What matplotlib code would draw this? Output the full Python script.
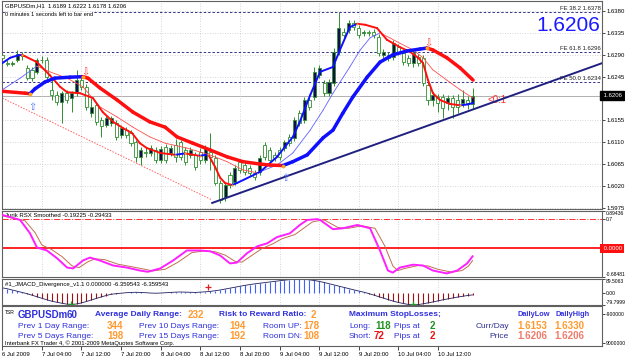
import matplotlib
matplotlib.use('Agg')
import matplotlib.pyplot as plt
from matplotlib.collections import LineCollection

W, H = 625, 358
plt.rcParams['font.family'] = ['Liberation Sans', 'DejaVu Sans']

# ---- hourly candles, GBPUSDm H1 ----
opens = [1.6290, 1.6274, 1.6272, 1.6279, 1.6288, 1.6263, 1.6259, 1.6255, 1.6280, 1.6279,
         1.6218, 1.6207, 1.6193, 1.6211, 1.6201, 1.6211, 1.6238, 1.6224, 1.6170, 1.6187,
         1.6156, 1.6146, 1.6150, 1.6150, 1.6125, 1.6135, 1.6129, 1.6110, 1.6080, 1.6090,
         1.6088, 1.6094, 1.6074, 1.6100, 1.6088, 1.6104, 1.6110, 1.6094, 1.6084, 1.6084,
         1.6090, 1.6074, 1.6090, 1.6078, 1.6026, 1.5997, 1.6043, 1.6028, 1.6070, 1.6063,
         1.6057, 1.6047, 1.6049, 1.6104, 1.6094, 1.6084, 1.6094, 1.6098, 1.6121, 1.6119,
         1.6170, 1.6156, 1.6197, 1.6203, 1.6248, 1.6232, 1.6211, 1.6232, 1.6296, 1.6337,
         1.6341, 1.6356, 1.6345, 1.6335, 1.6337, 1.6337, 1.6327, 1.6290, 1.6290, 1.6286,
         1.6306, 1.6294, 1.6284, 1.6273, 1.6286, 1.6284, 1.6228, 1.6197, 1.6203, 1.6203,
         1.6191, 1.6201, 1.6197, 1.6191, 1.6197, 1.6189]
highs = [1.6296, 1.6279, 1.6277, 1.6300, 1.6296, 1.6270, 1.6265, 1.6284, 1.6288, 1.6286,
         1.6238, 1.6215, 1.6216, 1.6218, 1.6216, 1.6259, 1.6244, 1.6230, 1.6201, 1.6193,
         1.6162, 1.6166, 1.6164, 1.6156, 1.6145, 1.6141, 1.6135, 1.6115, 1.6100, 1.6098,
         1.6104, 1.6100, 1.6102, 1.6106, 1.6104, 1.6117, 1.6115, 1.6100, 1.6100, 1.6090,
         1.6098, 1.6104, 1.6129, 1.6084, 1.6032, 1.6028, 1.6049, 1.6063, 1.6076, 1.6070,
         1.6063, 1.6053, 1.6084, 1.6110, 1.6100, 1.6090, 1.6100, 1.6115, 1.6127, 1.6162,
         1.6176, 1.6203, 1.6203, 1.6265, 1.6269, 1.6238, 1.6240, 1.6304, 1.6378, 1.6345,
         1.6362, 1.6362, 1.6352, 1.6341, 1.6341, 1.6343, 1.6333, 1.6302, 1.6296, 1.6321,
         1.6312, 1.6300, 1.6290, 1.6300, 1.6292, 1.6290, 1.6234, 1.6213, 1.6209, 1.6209,
         1.6207, 1.6207, 1.6209, 1.6218, 1.6205, 1.6222]
lows = [1.6280, 1.6267, 1.6268, 1.6275, 1.6279, 1.6238, 1.6236, 1.6250, 1.6273, 1.6238,
        1.6197, 1.6187, 1.6150, 1.6190, 1.6172, 1.6205, 1.6218, 1.6176, 1.6162, 1.6146,
        1.6121, 1.6141, 1.6143, 1.6115, 1.6119, 1.6119, 1.6102, 1.6070, 1.6063, 1.6080,
        1.6082, 1.6067, 1.6068, 1.6068, 1.6082, 1.6070, 1.6074, 1.6063, 1.6078, 1.6053,
        1.6065, 1.6067, 1.6053, 1.6022, 1.5985, 1.5990, 1.6016, 1.6022, 1.6047, 1.6043,
        1.6041, 1.6032, 1.6043, 1.6074, 1.6067, 1.6072, 1.6074, 1.6092, 1.6102, 1.6113,
        1.6143, 1.6150, 1.6176, 1.6197, 1.6242, 1.6205, 1.6205, 1.6226, 1.6290, 1.6325,
        1.6335, 1.6341, 1.6325, 1.6329, 1.6329, 1.6325, 1.6288, 1.6284, 1.6278, 1.6280,
        1.6290, 1.6269, 1.6267, 1.6265, 1.6267, 1.6226, 1.6187, 1.6185, 1.6172, 1.6160,
        1.6176, 1.6160, 1.6170, 1.6183, 1.6178, 1.6178]
closes = [1.6284, 1.6272, 1.6273, 1.6292, 1.6290, 1.6242, 1.6242, 1.6279, 1.6279, 1.6244,
          1.6207, 1.6193, 1.6211, 1.6197, 1.6211, 1.6238, 1.6224, 1.6183, 1.6183, 1.6152,
          1.6143, 1.6160, 1.6160, 1.6121, 1.6139, 1.6125, 1.6108, 1.6080, 1.6094, 1.6088,
          1.6098, 1.6074, 1.6096, 1.6074, 1.6098, 1.6080, 1.6080, 1.6070, 1.6094, 1.6059,
          1.6074, 1.6098, 1.6080, 1.6026, 1.5991, 1.6022, 1.6022, 1.6057, 1.6053, 1.6049,
          1.6047, 1.6039, 1.6078, 1.6080, 1.6074, 1.6078, 1.6080, 1.6110, 1.6108, 1.6156,
          1.6150, 1.6197, 1.6183, 1.6255, 1.6263, 1.6211, 1.6234, 1.6296, 1.6345, 1.6331,
          1.6356, 1.6348, 1.6331, 1.6337, 1.6335, 1.6331, 1.6294, 1.6296, 1.6284, 1.6314,
          1.6296, 1.6275, 1.6273, 1.6294, 1.6273, 1.6232, 1.6197, 1.6207, 1.6191, 1.6181,
          1.6201, 1.6183, 1.6183, 1.6199, 1.6191, 1.6206]

# moving averages (bar, price)
slow_bar = [0, 4.6, 5.6, 6.6, 8.6, 10.6, 13.7, 16.3, 17.3, 19.7, 23.2, 26.4, 29.8, 32.9, 35.3,
            38.5, 42.0, 45.4, 48.6, 52.1, 54.1, 56.7, 58.7, 61.6, 64.8, 66.8, 68.8, 70.8, 73.7,
            76.3, 78.9, 81.8, 84.4, 85.8, 87.0, 89.8, 92.5, 95.1]
slow_val = [1.6215, 1.6211, 1.6210, 1.6220, 1.6234, 1.6242, 1.6244, 1.6245, 1.6242, 1.6222,
            1.6197, 1.6172, 1.6152, 1.6141, 1.6121, 1.6108, 1.6094, 1.6080, 1.6070, 1.6065,
            1.6063, 1.6062, 1.6070, 1.6084, 1.6119, 1.6135, 1.6170, 1.6203, 1.6244, 1.6275,
            1.6290, 1.6298, 1.6302, 1.6304, 1.6300, 1.6284, 1.6263, 1.6238]
fast_bar = [0, 1.6, 3.2, 4.0, 7.0, 9.6, 11.7, 13.1, 15.7, 18.3, 20.3, 22.4, 24.4, 26.2, 27.8,
            29.2, 31.9, 34.9, 36.9, 39.9, 41.6, 43.0, 44.0, 45.0, 46.4, 47.4, 52.1, 55.5, 58.7,
            60.1, 62.2, 64.2, 66.8, 68.2, 70.2, 71.7, 73.3, 75.7, 77.7, 80.3, 82.4, 84.0, 85.0,
            86.0, 87.0, 88.4, 90.4, 92.5, 94.1, 95.1]
fast_val = [1.6273, 1.6284, 1.6289, 1.6290, 1.6275, 1.6248, 1.6224, 1.6213, 1.6211, 1.6201,
            1.6172, 1.6152, 1.6139, 1.6129, 1.6108, 1.6098, 1.6088, 1.6084, 1.6087, 1.6082,
            1.6085, 1.6059, 1.6037, 1.6026, 1.6022, 1.6026, 1.6049, 1.6080, 1.6121, 1.6152,
            1.6207, 1.6255, 1.6265, 1.6300, 1.6347, 1.6354, 1.6352, 1.6345, 1.6321, 1.6306,
            1.6296, 1.6284, 1.6273, 1.6238, 1.6211, 1.6197, 1.6189, 1.6186, 1.6188, 1.6191]
thin_bar = [0, 3.6, 7.0, 9.6, 13.1, 16.3, 19.7, 23.2, 26.4, 29.8, 32.9, 37.3, 41.9, 45.4, 48.6,
            51.5, 55.5, 58.7, 62.2, 64.8, 66.8, 70.2, 72.3, 74.3, 76.3, 78.3, 80.3, 83.0, 85.0,
            87.0, 89.8, 92.5, 95.1]
thin_val = [1.6218, 1.6242, 1.6267, 1.6255, 1.6242, 1.6224, 1.6183, 1.6162, 1.6141, 1.6121,
            1.6108, 1.6098, 1.6084, 1.6070, 1.6053, 1.6047, 1.6063, 1.6088, 1.6135, 1.6176,
            1.6211, 1.6265, 1.6300, 1.6325, 1.6335, 1.6325, 1.6314, 1.6300, 1.6284, 1.6259,
            1.6238, 1.6218, 1.6201]

trend_bar = [42.4, 121.2]
trend_val = [1.5985, 1.6273]
chan_bar = [0, 42.4]
chan_val = [1.6201, 1.5991]
fe_levels = [1.6378, 1.6296, 1.6234]
fe_labels = ['FE 38.2 1.6378', 'FE 61.8 1.6296', 'FE 50.0 1.6234']
last_price = 1.6206
price_ticks = [1.5975, 1.6020, 1.6065, 1.6110, 1.6155, 1.6245, 1.6290, 1.6335, 1.6380]
sell_arrows = [(16.7, 1.6253), (86.0, 1.6314)]
buy_arrows = [(6.0, 1.6183), (57.1, 1.6036)]

# RSX smoothed
rsx_bar = [0, 3.6, 5.6, 7.0, 9.0, 11.1, 13.1, 14.3, 16.3, 17.7, 19.7, 22.4, 25.2, 27.8, 29.4,
           31.9, 34.5, 37.3, 39.9, 42.0, 44.0, 46.0, 47.4, 49.4, 51.5, 53.5, 55.5, 58.1, 60.1,
           61.6, 63.6, 64.2, 66.8, 68.8, 71.7, 74.3, 76.3, 77.9, 78.9, 80.3, 83.0, 85.0, 87.0,
           89.8, 91.9, 93.9, 95.0]
rsx_val = [0.80, 0.68, 0.36, 0.02, -0.05, -0.24, -0.46, -0.48, -0.29, -0.22, -0.29, -0.41, -0.46,
           -0.53, -0.56, -0.48, -0.29, -0.05, -0.05, -0.07, -0.17, -0.36, -0.34, -0.12, 0.05, 0.12,
           0.27, 0.36, 0.56, 0.68, 0.70, 0.68, 0.46, 0.48, 0.56, 0.48, -0.05, -0.53, -0.58, -0.46,
           -0.39, -0.41, -0.53, -0.60, -0.53, -0.36, -0.19]
sig_bar = [0, 4.6, 6.6, 8.0, 10.0, 12.1, 14.1, 15.5, 17.3, 18.7, 20.7, 23.4, 26.2, 28.8, 30.4,
           32.9, 35.5, 38.3, 40.9, 43.0, 45.0, 47.0, 48.4, 50.4, 52.5, 54.5, 56.5, 59.1, 61.1,
           62.6, 64.6, 65.2, 67.8, 69.8, 72.7, 75.3, 77.3, 78.9, 79.9, 81.3, 84.0, 86.0, 88.0,
           90.8, 92.9, 94.2, 95.0]
sig_val = [0.78, 0.66, 0.38, 0.08, -0.03, -0.20, -0.42, -0.46, -0.32, -0.25, -0.27, -0.38, -0.44,
           -0.50, -0.54, -0.50, -0.33, -0.10, -0.06, -0.08, -0.16, -0.31, -0.33, -0.17, 0.00, 0.10,
           0.23, 0.33, 0.50, 0.63, 0.68, 0.67, 0.50, 0.48, 0.54, 0.48, 0.05, -0.42, -0.53, -0.48,
           -0.41, -0.42, -0.50, -0.57, -0.53, -0.42, -0.29]

# JMACD histogram, one value per bar
macd = [32, 26, 18, 10, 2, -6,
        -16, -26, -36, -46, -55, -62, -68, -74, -76, -73, -66, -57, -47, -37, -27, -18, -10,
        -6, -3, 0, 2, 3, 2, 0, -2, -3, -2, 0, 2, 4, 5, 4, 3, 2, 4,
        6, 9, 13, 18, 24, 30, 36, 42, 48, 53, 58, 62, 66, 70, 74,
        78, 82, 85, 88, 89, 87, 84, 80, 74, 67, 59, 51, 43, 35, 27, 19, 11,
        4, -5, -15, -25, -35, -45, -55, -63, -70, -76, -79, -77, -72, -66, -60, -53, -46, -40,
        -34, -28, -23, -18, -14]
macd_lows = [13.9, 83.0]
macd_signal = [(41.6, 35)]

date_bars = [0, 8, 16, 24, 32, 40, 48, 56, 64, 72, 80, 88]
date_labels = ['6 Jul 2009', '7 Jul 04:00', '7 Jul 12:00', '7 Jul 20:00', '8 Jul 04:00',
               '8 Jul 12:00', '8 Jul 20:00', '9 Jul 04:00', '9 Jul 12:00', '9 Jul 20:00',
               '10 Jul 04:00', '10 Jul 12:00']

fig = plt.figure(figsize=(W / 100, H / 100), dpi=100)


def px_axes(x0, y0, x1, y1):
    return fig.add_axes([x0 / W, 1 - y1 / H, (x1 - x0) / W, (y1 - y0) / H])


def fig_text(x, y, s, **kw):
    fig.text(x / W, 1 - y / H, s, va='center', **kw)


def trend_line(ax, xs, ys, lw, up, dn):
    segs, cols = [], []
    for i in range(len(xs) - 1):
        segs.append([(xs[i], ys[i]), (xs[i + 1], ys[i + 1])])
        cols.append(up if ys[i + 1] >= ys[i] else dn)
    ax.add_collection(LineCollection(segs, colors=cols, linewidths=lw,
                                     capstyle='round', joinstyle='round', zorder=4))
    for i in range(1, len(xs) - 1):
        if (ys[i] - ys[i - 1]) * (ys[i + 1] - ys[i]) < 0:
            ax.plot(xs[i], ys[i], 'o', color='#ffa020', ms=lw * 1.1, mec='none', zorder=5)


XL = (-0.06, 121.15)
grid_kw = dict(color='#c8c8c8', linestyle=(0, (1, 2)), linewidth=0.6)
spine_col = '#606060'
LAB = 4.3
SMALL = 3.6


def style(ax, ticks, labels, size=LAB):
    ax.set_xlim(*XL)
    for s in ax.spines.values():
        s.set_color(spine_col)
        s.set_linewidth(0.8)
    ax.set_xticks(date_bars)
    ax.tick_params(axis='x', length=0, labelbottom=False)
    ax.grid(True, axis='x', **grid_kw)
    ax.yaxis.tick_right()
    ax.set_yticks(ticks)
    ax.set_yticklabels(labels)
    ax.tick_params(axis='y', length=2, width=0.5, pad=1, labelsize=size, colors='black')


# ---- main price panel ----
ax = px_axes(2, 1, 602, 209)
ax.set_ylim(1.59725, 1.64009)
style(ax, price_ticks, ['%.4f' % p for p in price_ticks])
ax.grid(True, axis='y', **grid_kw)

for i in range(len(opens)):
    o, h, l, c = opens[i], highs[i], lows[i], closes[i]
    ax.vlines(i, l, h, color='#2f8f2f', lw=0.7, zorder=2)
    ax.bar(i, max(abs(c - o), 0.00004), width=0.62, bottom=min(o, c),
           color='#10104a' if c >= o else 'white', edgecolor='#2f8f2f', lw=0.6, zorder=3)

for lev in fe_levels:
    ax.axhline(lev, color='#34348a', lw=0.7, linestyle=(0, (2.5, 2)), zorder=1)
for lev, lab in zip(fe_levels, fe_labels):
    ax.text(0.998, lev + 0.0002, lab, transform=ax.get_yaxis_transform(), ha='right',
            va='bottom', fontsize=4.3, color='#202020')
ax.axhline(last_price, color='#b0b0b0', lw=0.7, zorder=1)

ax.plot(chan_bar, chan_val, color='#ff6060', lw=0.7, linestyle=(0, (1.5, 1.5)), zorder=2)
ax.plot(trend_bar, trend_val, color='#202080', lw=1.4, zorder=4)

trend_line(ax, thin_bar, thin_val, 0.6, '#6060ff', '#ff5050')
trend_line(ax, fast_bar, fast_val, 1.4, '#1010ff', '#ff1010')
trend_line(ax, slow_bar, slow_val, 2.5, '#1010ff', '#ff1010')

for b, p in sell_arrows:
    ax.text(b, p, '\u21e9', color='#ff4040', fontsize=7, ha='center', va='center',
            family='DejaVu Sans', zorder=6)
for b, p in buy_arrows:
    ax.text(b, p, '\u21e7', color='#5070ff', fontsize=7, ha='center', va='center',
            family='DejaVu Sans', zorder=6)
ax.text(98, 1.6197, '<0:1', color='#ff3030', fontsize=7, ha='left', va='center')

ax.text(1.0, last_price, ' %.4f' % last_price, transform=ax.get_yaxis_transform(),
        ha='left', va='center', fontsize=LAB, color='white',
        bbox=dict(boxstyle='square,pad=0.3', fc='black', ec='black'), clip_on=False)
ax.text(0.997, 1.6350, '%.4f' % last_price, transform=ax.get_yaxis_transform(),
        ha='right', va='center', fontsize=15, color='#1a1aff')
ax.text(0.005, 0.975, 'GBPUSDm,H1  1.6189 1.6222 1.6178 1.6206', transform=ax.transAxes,
        fontsize=4.3, va='center', ha='left')
ax.text(0.005, 0.935, '0 minutes 1 seconds left to bar end', transform=ax.transAxes,
        fontsize=4.1, va='center', ha='left', bbox=dict(fc='white', ec='none', pad=0.2))

# ---- RSX panel ----
ar = px_axes(2, 211, 602, 277)
ar.set_ylim(-0.68481, 0.89436)
style(ar, [0.89436, 0.7, -0.68481], ['0.89436', '0.7', '-0.68481'], SMALL)
tl = ar.get_yticklabels()
tl[0].set_va('top')
tl[2].set_va('bottom')
ar.axhline(0.7, color='#ff3030', lw=0.7, linestyle='-.')
ar.axhline(0.0, color='#ff1010', lw=1.3)
ar.plot(sig_bar, sig_val, color='#c07050', lw=0.7, zorder=3)
ar.plot(rsx_bar, rsx_val, color='#ff20ff', lw=1.4, zorder=4)
ar.text(1.0, 0.0, ' 0.0000', transform=ar.get_yaxis_transform(), ha='left', va='center',
        fontsize=LAB, color='white', bbox=dict(boxstyle='square,pad=0.3', fc='#ff1010', ec='none'))
ar.text(0.005, 0.93, 'Jurik RSX Smoothed -0.19225 -0.29433', transform=ar.transAxes,
        fontsize=4.3, va='center', ha='left')

# ---- JMACD panel ----
am = px_axes(2, 279, 602, 305)
am.set_ylim(-79.7999, 89.5063)
style(am, [89.5063, 0, -79.7999], ['89.5063', '0.00', '-79.7999'], SMALL)
tl = am.get_yticklabels()
tl[0].set_va('top')
tl[2].set_va('bottom')
bars = list(range(len(macd)))
am.vlines(bars, 0, macd, colors=['#4060ff' if v >= 0 else '#a01010' for v in macd], lw=0.8)
am.plot(bars, macd, color='#202060', lw=0.6)
am.plot(macd_lows, [-75, -75], '+', color='#20a020', ms=4, mew=0.9)
am.plot([b for b, v in macd_signal], [v for b, v in macd_signal], '+', color='#e02020',
        ms=4, mew=0.9)
am.text(0.005, 0.8, '#1_JMACD_Divergence_v1.1 0.000000 -6.359543 -6.359543',
        transform=am.transAxes, fontsize=4.3, va='center', ha='left')

# ---- info panel ----
ai = px_axes(2, 306, 602, 346)
ai.set_xlim(*XL)
ai.set_ylim(0, 1)
for s in ai.spines.values():
    s.set_color(spine_col)
    s.set_linewidth(0.8)
ai.set_xticks(date_bars)
ai.set_xticklabels(date_labels, fontsize=4.3, ha='left')
ai.tick_params(axis='x', length=3, width=0.5, pad=1.5)
ai.yaxis.tick_right()
ai.set_yticks([0.8, 0.07])
ai.set_yticklabels(['-900000', '9000000'])
ai.tick_params(axis='y', length=2, width=0.5, pad=1, labelsize=SMALL)

blue = '#3030dd'
orange = '#ff9a30'
fig_text(5, 312, 'TSR', fontsize=3.6)
fig_text(18, 315, 'GBPUSDm', fontsize=7, weight='bold', color=blue)
fig_text(67, 315, '60', fontsize=7, weight='bold', color=blue)
fig_text(95, 315, 'Average Daily Range:', fontsize=6, weight='bold', color=blue)
fig_text(188, 315, '232', fontsize=7, weight='bold', color=orange)
fig_text(219, 315, 'Risk to Reward Ratio:', fontsize=6, weight='bold', color=blue)
fig_text(311, 315, '2', fontsize=7, weight='bold', color=orange)
fig_text(349, 315, 'Maximum StopLosses;', fontsize=6, weight='bold', color=blue)
fig_text(517, 315, 'DailyLow', fontsize=5.3, weight='bold', color=blue)
fig_text(555, 315, 'DailyHigh', fontsize=5.3, weight='bold', color=blue)

rows = [(326, 'Prev 1 Day Range:', '344', 'Prev 10 Days Range:', '194', 'Room UP:', '178'),
        (336, 'Prev 5 Days Range:', '198', 'Prev 15 Days Range:', '192', 'Room DN:', '108')]
for y, a, av, b, bv, c, cv in rows:
    fig_text(18, y, a, fontsize=6, color=blue)
    fig_text(107, y, av, fontsize=7, weight='bold', color=orange)
    fig_text(139, y, b, fontsize=6, color=blue)
    fig_text(229, y, bv, fontsize=7, weight='bold', color=orange)
    fig_text(263, y, c, fontsize=6, color=blue)
    fig_text(303, y, cv, fontsize=7, weight='bold', color=orange)

fig_text(349, 326, 'Long:', fontsize=6, color=blue)
fig_text(375, 326, '118', fontsize=7, weight='bold', color='#209020')
fig_text(394, 326, 'Pips at', fontsize=6, color=blue)
fig_text(430, 326, '2', fontsize=7, weight='bold', color='#209020')
fig_text(349, 336, 'Short:', fontsize=6, color=blue)
fig_text(374, 336, '72', fontsize=7, weight='bold', color='#ee1010')
fig_text(394, 336, 'Pips at', fontsize=6, color=blue)
fig_text(430, 336, '2', fontsize=7, weight='bold', color='#ee1010')

fig_text(509, 326, 'Curr/Day', fontsize=6, color='#303090', ha='right')
fig_text(517, 326, '1.6153', fontsize=7, weight='bold', color=orange)
fig_text(554, 326, '1.6330', fontsize=7, weight='bold', color=orange)
fig_text(509, 336, 'Price', fontsize=6, color='#303090', ha='right')
fig_text(517, 336, '1.6206', fontsize=7, weight='bold', color='#f07a6a')
fig_text(554, 336, '1.6206', fontsize=7, weight='bold', color='#f07a6a')
fig_text(5, 343, 'Interbank FX Trader 4, \u00a9 2001-2009 MetaQuotes Software Corp.', fontsize=4.2)

fig.savefig('out.png', dpi=100)
